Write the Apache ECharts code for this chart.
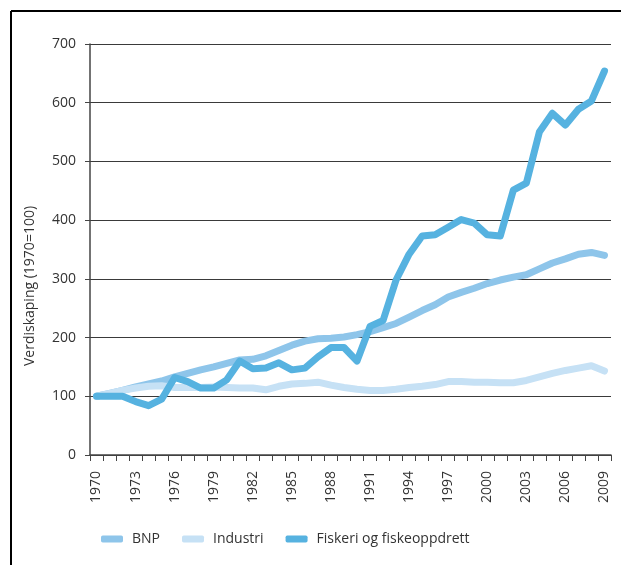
<!DOCTYPE html>
<html>
<head>
<meta charset="utf-8">
<script src="https://cdn.jsdelivr.net/npm/echarts@6/dist/echarts.min.js"></script>
<style>
  html, body { margin: 0; padding: 0; background: #fff; }
  #chart { width: 621px; height: 565px; }
</style>
</head>
<body>
<div id="chart"></div>
<script>
// years 1970-2009
const years = []
for (let y = 1970; y <= 2009; y++) years.push(String(y))

const bnp = [100, 105, 110, 116, 121, 126, 133, 139, 145, 150,
    156, 162, 163, 169, 178, 187, 194, 198, 199, 201,
    205, 210, 217, 224, 235, 246, 256, 269, 277, 284,
    292, 298, 303, 307, 317, 327, 334, 342, 345, 340]

const industri = [100, 105, 110, 114, 117, 118, 115, 115, 115, 116,
    115, 114, 114, 111, 117, 121, 122, 124, 119, 115,
    112, 110, 110, 112, 115, 117, 120, 125, 125, 124,
    124, 123, 123, 127, 133, 139, 144, 148, 152, 143]

const fiskeri = [100, 100, 100, 91, 84, 95, 132, 125, 114, 114,
    128, 160, 147, 148, 157, 145, 148, 167, 183, 183,
    160, 219, 229, 298, 342, 373, 375, 388, 401, 395,
    375, 373, 451, 463, 550, 582, 562, 589, 603, 654]

const yTicks = [0, 100, 200, 300, 400, 500, 600, 700]

const font = 'Open Sans'
const chart = echarts.init(document.getElementById('chart'))

function line (name, data, color) {
    return {
        name: name,
        type: 'line',
        data: data,
        symbol: 'none',
        smooth: false,
        lineStyle: { color: color, width: 7, cap: 'round', join: 'round' },
        itemStyle: { color: color }
    }
}

const option = {
    animation: false,
    textStyle: { fontFamily: font },
    grid: { left: 90, right: 10, top: 44, bottom: 110 },
    legend: {
        left: 96,
        top: 527,
        itemWidth: 22,
        itemHeight: 7,
        itemGap: 22,
        icon: 'roundRect',
        textStyle: { fontSize: 14, color: '#333', fontFamily: font, padding: [0, 0, 0, 4] },
        data: ['BNP', 'Industri', 'Fiskeri og fiskeoppdrett']
    },
    xAxis: {
        type: 'category',
        data: years,
        boundaryGap: true,
        axisLine: { lineStyle: { color: '#444', width: 1.5 } },
        axisTick: { show: true, interval: 0, length: 6, lineStyle: { color: '#444' } },
        axisLabel: {
            interval: 2,
            rotate: 90,
            fontSize: 14,
            fontFamily: font,
            color: '#333',
            margin: 16
        }
    },
    yAxis: {
        type: 'value',
        min: yTicks[0],
        max: yTicks[yTicks.length - 1],
        interval: 100,
        axisLine: { show: true, lineStyle: { color: '#444', width: 1.5 } },
        axisTick: { show: true, length: 5, lineStyle: { color: '#444' } },
        axisLabel: { fontSize: 14, fontFamily: font, color: '#333', margin: 14 },
        splitLine: { show: true, lineStyle: { color: '#3a3a3a', width: 1.2 } }
    },
    graphic: [
        {
            type: 'line',
            shape: { x1: 11, y1: 11, x2: 621, y2: 11 },
            style: { stroke: '#000', lineWidth: 2 }
        },
        {
            type: 'line',
            shape: { x1: 11, y1: 11, x2: 11, y2: 565 },
            style: { stroke: '#000', lineWidth: 2 }
        },
        {
            type: 'text',
            x: 30,
            y: 286,
            rotation: Math.PI / 2,
            style: {
                text: 'Verdiskaping (1970=100)',
                fontSize: 14,
                fontFamily: font,
                fill: '#333',
                align: 'center',
                verticalAlign: 'middle'
            }
        }
    ],
    series: [
        line('BNP', bnp, '#8ec5ea'),
        line('Industri', industri, '#c6e1f5'),
        line('Fiskeri og fiskeoppdrett', fiskeri, '#56b2e0')
    ]
}

chart.setOption(option)
</script>
</body>
</html>
